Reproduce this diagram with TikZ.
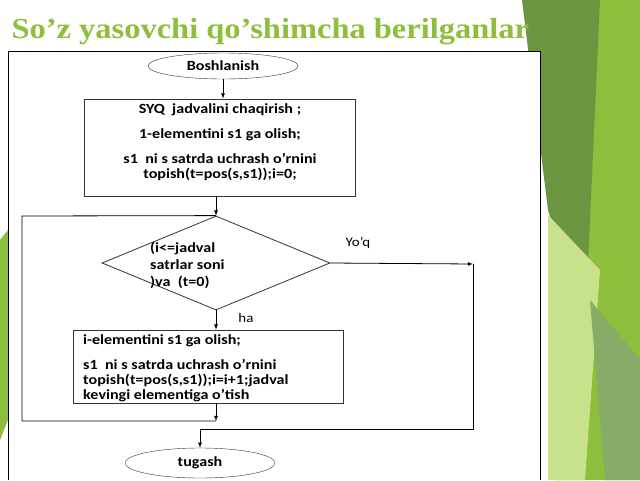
\documentclass[tikz,border=0pt]{standalone}
\usepackage{fontspec}
\setmainfont{Carlito}[FakeStretch=1.15]
\newfontfamily\titlefont{Liberation Serif}[FakeStretch=1.12]
\usetikzlibrary{arrows,shapes,calc}
\definecolor{leaf}{RGB}{141,190,60}
\definecolor{darkleaf}{RGB}{106,150,66}
\definecolor{paleleaf}{RGB}{200,226,140}
\begin{document}
\begin{tikzpicture}[x=1pt,y=-1pt]
\tikzstyle{txt}=[font=\bfseries\fontsize{14}{15}\selectfont, inner sep=0pt]
\tikzstyle{term}=[ellipse, draw=black!80, minimum width=150pt, minimum height=26pt, inner sep=0pt, txt]
\tikzstyle{proc}=[rectangle, draw=black!80, thick, inner sep=0pt]
\tikzstyle{connect}=[-latex, thick]
\tikzstyle{wire}=[thick]

  \useasboundingbox (0,0) rectangle (640,480);
  % background
  \fill[white] (0,0) rectangle (640,480);
  \fill[leaf] (575,0) -- (640,0) -- (640,480) -- (555,480) -- cycle;
  \fill[darkleaf] (522,0) -- (600,0) -- (585,330) -- (548,210) -- cycle;
  \fill[paleleaf] (548,215) -- (600,270) -- (585,480) -- (548,480) -- cycle;
  \fill[darkleaf!80] (590,300) -- (640,360) -- (640,480) -- (605,480) -- cycle;
  \fill[leaf] (0,240) -- (8,230) -- (8,420) -- (0,440) -- cycle;
  \node[anchor=base west, text=leaf, font=\titlefont\bfseries\fontsize{29}{31}\selectfont] (title) at (8,38) {So’z yasovchi qo’shimcha berilganlar};

  % frame
  \fill[white] (8,51) rectangle (540,480);
  \draw[thick] (8,480) -- (8,51) -- (540,51) -- (540,480);

  \node[term] (start) at (223,66) {Boshlanish};
  \node[proc, minimum width=271pt, minimum height=97pt] (init) at (220,147.5) {};
  \node[txt, align=center] at (220,110) {SYQ\ \ jadvalini chaqirish ;};
  \node[txt, align=center] at (220,135) {1-elementini s1 ga olish;};
  \node[txt, align=center] at (220,167) {s1\ \ ni s satrda uchrash o’rnini\\topish(t=pos(s,s1));i=0;};

  \node[diamond, draw=black!80, thick, minimum width=228pt, minimum height=94pt, inner sep=0pt] (cond) at (216,263) {};
  \node[txt, align=left, anchor=west, font=\bfseries\fontsize{14}{17}\selectfont] at (150,265) {(i<=jadval\\satrlar soni\\)va\ \ (t=0)};

  \node[proc, minimum width=270pt, minimum height=73pt] (step) at (208,366.5) {};
  \node[txt, anchor=west] at (83,341) {i-elementini s1 ga olish;};
  \node[txt, align=left, anchor=west, font=\bfseries\fontsize{14}{15}\selectfont] at (83,381) {s1\ \ ni s satrda uchrash o’rnini\\topish(t=pos(s,s1));i=i+1;jadval\\kevingi elementiga o’tish};

  \node[term, minimum height=30pt] (stop) at (200,463) {tugash};

  \node[font=\fontsize{13}{14}\selectfont] (no) at (358,243) {Yo’q};
  \node[font=\fontsize{13}{14}\selectfont, fill=white, minimum width=50pt] (yes) at (246,318) {ha};

  \coordinate (loopl) at (22,421);
  \coordinate (loopt) at (22,216);
  \coordinate (exitr) at (473,264);
  \coordinate (exitb) at (473,429);

  \draw[connect] (start) -- (start |- init.north);
  \draw[connect] (init.south -| cond.north) -- (cond.north);
  \draw[connect] (cond.south) -- (cond.south |- step.north);
  \draw[connect] (step.south -| cond.south) -- (loopl -| cond.south);
  \draw[wire] (loopl -| cond.south) -- (loopl) -- (loopt) -- (cond.north);
  \draw[connect] (cond.east) -- (exitr);
  \draw[wire] (exitr) -- (exitb) -- (exitb -| stop.north);
  \draw[connect] (exitb -| stop.north) -- (stop.north);

\end{tikzpicture}
\end{document}
